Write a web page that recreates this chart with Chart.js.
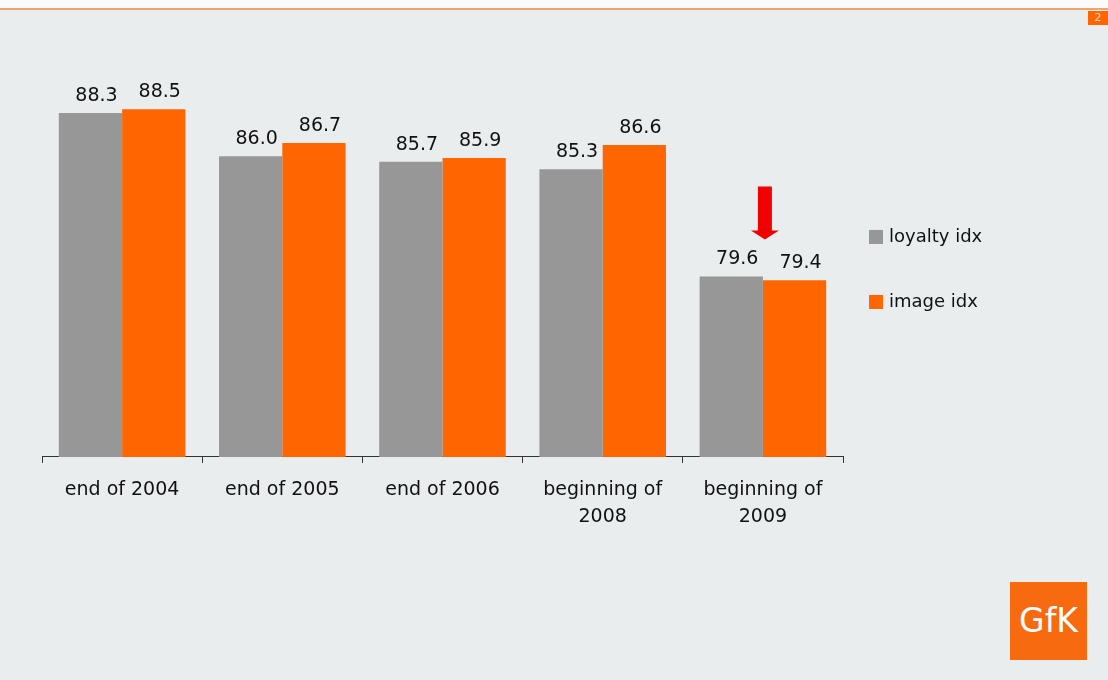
<!DOCTYPE html>
<html>
<head>
<meta charset="utf-8">
<script src="https://cdn.jsdelivr.net/npm/chart.js@4/dist/chart.umd.min.js"></script>
<style>
  html, body { margin: 0; padding: 0; }
  body {
    width: 1108px; height: 680px; position: relative; overflow: hidden;
    background: #e9eded; font-family: 'DejaVu Sans', sans-serif;
  }
  #topband { position: absolute; left: 0; top: 0; width: 1108px; height: 8px; background: #fbfbfb; border-bottom: 2px solid #eda46f; }
  #pageNo {
    position: absolute; left: 1088px; top: 11px; width: 20px; height: 14px;
    background: #ff6600; color: #ffd9bf; font-size: 11px; line-height: 14px; text-align: center;
  }
  #logo {
    position: absolute; left: 1010px; top: 582px; width: 77px; height: 78px;
    background: #f86a10; color: #fff; font-size: 33px; line-height: 78px; text-align: center;
  }
  #chartBox { position: absolute; left: 0; top: 0; width: 1108px; height: 680px; }
</style>
</head>
<body>
<div id="topband"></div>
<div id="pageNo">2</div>
<div id="logo">GfK</div>
<div id="chartBox"><canvas id="chart" width="1108" height="680"></canvas></div>
<script>
const categories = ['end of 2004', 'end of 2005', 'end of 2006', ['beginning of', '2008'], ['beginning of', '2009']];
const loyaltyIdx = [88.3, 86.0, 85.7, 85.3, 79.6];
const imageIdx = [88.5, 86.7, 85.9, 86.6, 79.4];
const seriesNames = ['loyalty idx', 'image idx'];

const FONT = "'DejaVu Sans', sans-serif";

// value labels above each bar
const valueLabels = {
    id: 'valueLabels',
    afterDatasetsDraw(chart) {
        const ctx = chart.ctx;
        ctx.save();
        ctx.font = '19px ' + FONT;
        ctx.fillStyle = '#111';
        ctx.textAlign = 'center';
        ctx.textBaseline = 'alphabetic';
        chart.data.datasets.forEach((ds, i) => {
            chart.getDatasetMeta(i).data.forEach((bar, j) => {
                ctx.fillText(ds.data[j].toFixed(1), bar.x + 6, bar.y - 12);
            });
        });
        ctx.restore();
    }
};

// red arrow over the last group + legend on the right
const extras = {
    id: 'extras',
    afterDraw(chart) {
        const ctx = chart.ctx;
        const area = chart.chartArea;
        const last = categories.length - 1;
        const cx = chart.scales.x.getPixelForValue(last) + 2;
        const bottom = chart.getDatasetMeta(0).data[last].y - 37;
        const top = bottom - 53;
        ctx.save();
        ctx.fillStyle = '#f20000';
        ctx.beginPath();
        ctx.moveTo(cx - 7, top);
        ctx.lineTo(cx + 7, top);
        ctx.lineTo(cx + 7, bottom - 9);
        ctx.lineTo(cx + 14, bottom - 9);
        ctx.lineTo(cx, bottom);
        ctx.lineTo(cx - 14, bottom - 9);
        ctx.lineTo(cx - 7, bottom - 9);
        ctx.closePath();
        ctx.fill();

        const midY = (area.top + area.bottom) / 2;
        ctx.font = '18px ' + FONT;
        ctx.textBaseline = 'middle';
        ctx.textAlign = 'left';
        chart.data.datasets.forEach((ds, i) => {
            const y = midY - 32 + i * 65;
            ctx.fillStyle = ds.backgroundColor;
            ctx.fillRect(area.right + 26, y - 7, 14, 14);
            ctx.fillStyle = '#111';
            ctx.fillText(ds.label, area.right + 46, y);
        });
        ctx.restore();
    }
};

new Chart(document.getElementById('chart'), {
    type: 'bar',
    data: {
        labels: categories,
        datasets: [
            { label: seriesNames[0], data: loyaltyIdx, backgroundColor: '#979797' },
            { label: seriesNames[1], data: imageIdx, backgroundColor: '#ff6600' }
        ]
    },
    options: {
        responsive: false,
        devicePixelRatio: 1,
        animation: false,
        categoryPercentage: 0.79,
        barPercentage: 1.0,
        layout: { padding: { left: 42, right: 265, top: 81, bottom: 136 } },
        plugins: { legend: { display: false }, tooltip: { enabled: false } },
        scales: {
            x: {
                grid: { display: true, drawOnChartArea: false, offset: true, color: '#333', tickLength: 6 },
                border: { display: true, color: '#333', width: 1 },
                ticks: { color: '#111', padding: 13, font: { family: FONT, size: 19, lineHeight: 1.45 } }
            },
            y: { display: false, min: 70, max: 90 }
        }
    },
    plugins: [valueLabels, extras]
});
</script>
</body>
</html>
